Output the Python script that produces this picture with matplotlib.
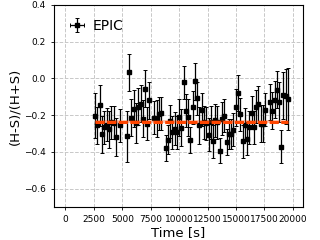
import matplotlib
matplotlib.use("Agg")
import matplotlib.pyplot as plt
import numpy as np

time_s = [2584, 2787, 2998, 3201, 3403, 3615, 3817, 4020, 4231, 4408,
          4813, 5377, 5580, 5782, 5994, 6196, 6399, 6610, 6786, 6989,
          7192, 7368, 7809, 8020, 8223, 8425, 8813, 8989, 9218, 9394,
          9606, 9808, 10011, 10187, 10398, 10601, 10804, 10980, 11191, 11394,
          11544, 11773, 11984, 12187, 12390, 12601, 12777, 12980, 13183, 13359,
          13597, 13800, 13976, 14187, 14390, 14593, 14769, 15007, 15209, 15385,
          15597, 15800, 16002, 16178, 16390, 16593, 16769, 16971, 17183, 17385,
          17588, 18002, 18205, 18416, 18592, 18795, 18998, 19174, 19412, 19588]
hr = [-0.202, -0.256, -0.147, -0.305, -0.266, -0.251, -0.278, -0.238, -0.242, -0.320,
      -0.256, -0.316, 0.034, -0.214, -0.165, -0.244, -0.153, -0.138, -0.220, -0.056,
      -0.247, -0.120, -0.214, -0.220, -0.193, -0.189, -0.378, -0.334, -0.233, -0.293,
      -0.274, -0.293, -0.211, -0.269, -0.020, -0.175, -0.211, -0.334, -0.157, -0.015,
      -0.108, -0.256, -0.171, -0.238, -0.244, -0.306, -0.238, -0.342, -0.229, -0.238,
      -0.393, -0.220, -0.202, -0.348, -0.302, -0.302, -0.280, -0.157, -0.080, -0.196,
      -0.342, -0.251, -0.329, -0.266, -0.187, -0.266, -0.153, -0.142, -0.247, -0.247,
      -0.171, -0.129, -0.175, -0.116, -0.062, -0.129, -0.371, -0.093, -0.097, -0.111]
hr_err = [0.122, 0.10, 0.11, 0.10, 0.09, 0.09, 0.10, 0.09, 0.09, 0.105,
          0.09, 0.14, 0.10, 0.10, 0.10, 0.11, 0.10, 0.10, 0.10, 0.10,
          0.09, 0.10, 0.09, 0.10, 0.09, 0.09, 0.07, 0.08, 0.09, 0.09,
          0.09, 0.09, 0.10, 0.10, 0.09, 0.09, 0.10, 0.07, 0.09, 0.10,
          0.09, 0.10, 0.09, 0.09, 0.09, 0.09, 0.09, 0.09, 0.09, 0.09,
          0.07, 0.09, 0.09, 0.07, 0.08, 0.08, 0.09, 0.10, 0.10, 0.09,
          0.09, 0.09, 0.09, 0.09, 0.09, 0.09, 0.09, 0.10, 0.10, 0.10,
          0.09, 0.10, 0.10, 0.10, 0.10, 0.11, 0.09, 0.13, 0.15, 0.17]
time_err = [60] * len(time_s)
mean_hr = -0.235
mean_hr_err = 0.01

fig = plt.figure(figsize=(3.2, 2.4), dpi=100)
ax = fig.add_axes([0.169, 0.1375, 0.778, 0.842])

ax.grid(True, linestyle='--', color='#c8c8c8', linewidth=0.7)
ax.set_axisbelow(True)

ax.errorbar(time_s, hr, yerr=hr_err, xerr=time_err, fmt='s', color='black',
            ms=2.2, elinewidth=0.9, capsize=1.5, capthick=0.7, label='EPIC', zorder=3)

xs = [time_s[0], time_s[-1]]
ax.fill_between(xs, mean_hr - mean_hr_err, mean_hr + mean_hr_err,
                color='orangered', alpha=0.3, lw=0, zorder=4)
ax.plot(xs, [mean_hr, mean_hr], color='orangered', lw=2.2, ls='--',
        dashes=(3, 0.8), zorder=5)

ax.set_xlim(-1000, 20900)
ax.set_ylim(-0.7, 0.4)
ax.set_xticks(np.arange(0, 20001, 2500))
ax.set_yticks(np.arange(-0.6, 0.41, 0.2))
ax.tick_params(labelsize=6.5, length=2.5, width=0.6)
ax.set_xlabel('Time [s]', fontsize=9.5, labelpad=1)
ax.set_ylabel('(H-S)/(H+S)', fontsize=9.5, labelpad=2)
for s in ax.spines.values():
    s.set_linewidth(0.8)

ax.legend(loc='upper left', frameon=False, fontsize=10, handlelength=1.3,
          borderaxespad=0.6, handletextpad=0.5)

fig.savefig('out.png', dpi=100)
